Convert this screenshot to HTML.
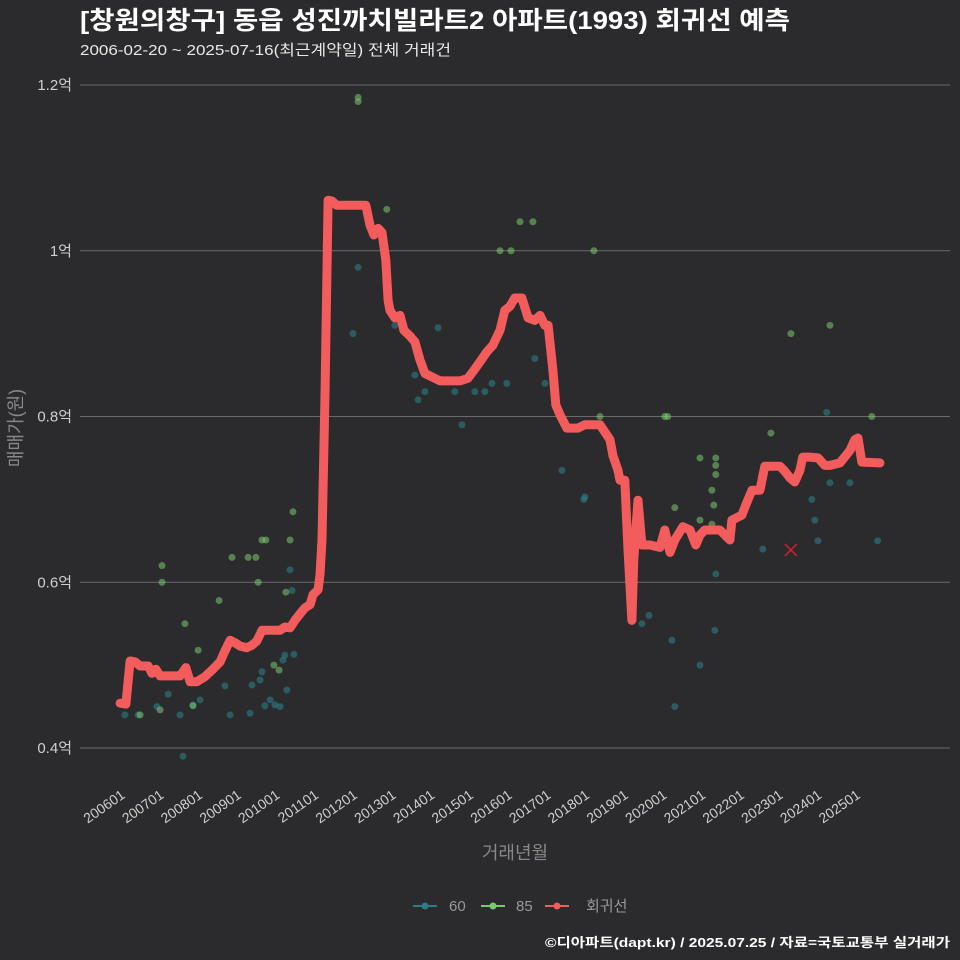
<!DOCTYPE html>
<html><head><meta charset="utf-8"><style>
body{margin:0;background:#2b2a2c;}
svg{display:block;font-family:"Liberation Sans","Noto Sans CJK KR",sans-serif;}
</style></head><body>
<svg id="chart" width="960" height="960" viewBox="0 0 960 960">
<rect width="960" height="960" fill="#2b2a2c"/>
<text x="80" y="29" fill="#ffffff" font-size="25" font-weight="bold" textLength="710" lengthAdjust="spacingAndGlyphs">[창원의창구] 동읍 성진까치빌라트2 아파트(1993) 회귀선 예측</text>
<text x="80" y="55" fill="#e8e8e8" font-size="15" textLength="371" lengthAdjust="spacingAndGlyphs">2006-02-20 ~ 2025-07-16(최근계약일) 전체 거래건</text>
<g id="grid"></g><g id="pts"></g><g id="line"></g><g id="axes"></g>
<text transform="translate(22,428) rotate(-90)" text-anchor="middle" fill="#888" font-size="18">매매가(원)</text>
<text x="515" y="859" text-anchor="middle" fill="#888" font-size="18">거래년월</text>
<g font-size="15" fill="#999">
<g><line x1="413" y1="906" x2="437" y2="906" stroke="#2a7f86" stroke-width="2"/><circle cx="425" cy="906" r="3.5" fill="#2a7f86"/><text x="449" y="911">60</text></g>
<g><line x1="481" y1="906" x2="505" y2="906" stroke="#7bc96f" stroke-width="2"/><circle cx="493" cy="906" r="3.5" fill="#7bc96f"/><text x="516" y="911">85</text></g>
<g><line x1="545" y1="906" x2="569" y2="906" stroke="#f25c5c" stroke-width="2"/><circle cx="557" cy="906" r="3.5" fill="#f25c5c"/><text x="586" y="911">회귀선</text></g>
</g>
<text x="950" y="947" text-anchor="end" fill="#ffffff" font-size="13" font-weight="bold" textLength="405" lengthAdjust="spacingAndGlyphs">©디아파트(dapt.kr) / 2025.07.25 / 자료=국토교통부 실거래가</text>
</svg>
<script>
// months since 2006-01, values in 억
const lineMonths=[-0.9,0.9,2.2,3.7,5.3,7.8,9.0,10.2,11.5,13.0,15.2,17.7,19.5,20.8,22.9,25.4,27.6,30.1,31.6,33.2,34.7,36.3,38.4,40.0,41.5,43.1,45.6,48.7,50.2,51.8,53.3,54.9,56.4,58.0,58.9,60.5,61.1,61.7,62.6,63.6,64.8,66.3,73.5,75.3,76.6,77.8,79.1,80.3,81.5,82.2,82.8,84.3,85.9,87.1,89.0,90.5,92.1,93.6,95.2,98.3,101.4,104.5,106.9,108.5,110.7,112.8,114.7,116.9,118.4,120.0,121.5,123.7,125.6,127.7,129.3,130.8,131.8,133.3,134.2,135.5,137.6,139.5,141.1,143.2,147.9,151.0,151.9,153.5,154.1,155.6,156.6,157.8,158.4,159.7,160.9,163.4,166.5,168.0,169.6,171.1,173.6,175.8,177.6,178.9,180.4,185.1,188.2,188.8,191.9,193.1,195.0,197.5,199.0,203.7,205.2,206.8,208.3,209.9,210.8,213.0,215.5,217.6,219.2,222.3,225.4,226.9,227.9,229.1,234.7];
const lineValues=[0.454,0.453,0.505,0.504,0.499,0.499,0.490,0.495,0.487,0.487,0.487,0.487,0.497,0.480,0.480,0.486,0.494,0.504,0.517,0.530,0.527,0.523,0.521,0.524,0.529,0.542,0.542,0.542,0.546,0.545,0.554,0.562,0.569,0.573,0.585,0.591,0.609,0.651,0.820,1.061,1.060,1.055,1.055,1.055,1.031,1.019,1.027,1.022,0.989,0.940,0.928,0.919,0.922,0.904,0.897,0.890,0.868,0.852,0.849,0.843,0.843,0.843,0.846,0.854,0.866,0.878,0.886,0.904,0.928,0.933,0.943,0.943,0.919,0.916,0.922,0.910,0.910,0.856,0.814,0.802,0.786,0.786,0.786,0.790,0.790,0.772,0.753,0.735,0.723,0.723,0.639,0.554,0.627,0.699,0.645,0.645,0.642,0.663,0.636,0.651,0.667,0.663,0.645,0.657,0.663,0.663,0.651,0.675,0.681,0.693,0.711,0.711,0.740,0.740,0.734,0.726,0.721,0.735,0.751,0.751,0.750,0.741,0.741,0.744,0.759,0.772,0.774,0.745,0.744];
const s60Months=[0.6,4.7,10.5,14,17.7,18.6,21.7,23.9,31.6,33.2,39.4,40,42.5,43.1,44,45.6,47.1,48.7,49.6,50.2,50.8,51.8,52.4,53,71.3,72.9,84.3,90.5,91.5,93.6,97.7,102.9,105.1,109.1,112.2,114.4,119,127.7,130.8,136.1,142.9,143.2,160.9,163.1,170.2,171.1,178.9,183.5,183.8,198.4,213.6,214.5,215.5,218.2,219.2,225.4,234];
const s60Values=[.44,.44,.45,.465,.44,.39,.452,.458,.475,.44,.442,.476,.482,.492,.451,.458,.452,.45,.506,.512,.47,.615,.59,.513,.9,.98,.91,.85,.82,.83,.907,.83,.79,.83,.83,.84,.84,.87,.84,.735,.7,.703,.55,.56,.53,.45,.5,.542,.61,.64,.7,.675,.65,.805,.72,.72,.65];
const s85Months=[12.1,12.1,19.2,21.7,23.3,29.8,33.8,38.8,41.2,41.9,43.1,44.3,46.8,48.4,51.8,52.7,50.5,72.9,72.9,81.8,116.9,120.3,123.1,127.1,146,147.9,168,168.9,171.1,178.9,182.6,183.2,183.8,183.8,183.8,182.6,200.9,207.1,219.2,232.2,5.3,11.5,178.9];
const s85Values=[.62,.6,.55,.451,.518,.578,.63,.63,.63,.6,.651,.651,.5,.494,.651,.685,.588,1.185,1.18,1.05,1.0,1.0,1.035,1.035,1.0,.8,.8,.8,.69,.75,.67,.693,.73,.741,.75,.711,.78,.9,.91,.8,.44,.446,.675];
const outlierMonths=[207.1];
const outlierValues=[0.639];
const yTicks=[0.4,0.6,0.8,1.0,1.2];
const yTickLabels=["0.4억","0.6억","0.8억","1억","1.2억"];
const xTickMonths=[0,12,24,36,48,60,72,84,96,108,120,132,144,156,168,180,192,204,216,228];
const xTickLabels=["200601","200701","200801","200901","201001","201101","201201","201301","201401","201501","201601","201701","201801","201901","202001","202101","202201","202301","202401","202501"];

const NS="http://www.w3.org/2000/svg";
const xs=m=>123+m*3.225;
const ys=v=>748-(v-0.4)*828.75;
function mk(tag,attrs,parent){const e=document.createElementNS(NS,tag);for(const k in attrs)e.setAttribute(k,attrs[k]);parent.appendChild(e);return e;}
const grid=document.getElementById('grid'),axes=document.getElementById('axes'),pts=document.getElementById('pts'),lineG=document.getElementById('line');
yTicks.forEach((t,i)=>{
  const l=mk('line',{x1:80,x2:950,y1:ys(t),y2:ys(t),stroke:'#6a6a6a','stroke-width':1},grid);
  
  
  const tx=mk('text',{x:72,y:ys(t)+5,'text-anchor':'end',fill:'#cfcfcf','font-size':15},axes);
  tx.textContent=yTickLabels[i];
  
  
});
xTickMonths.forEach((m,i)=>{
  const x=xs(m);
  const tx=mk('text',{transform:`translate(${x+3},${797}) rotate(-35)`,'text-anchor':'end',fill:'#cfcfcf','font-size':14},axes);
  tx.textContent=xTickLabels[i];
  
  
});
s60Months.forEach((m,i)=>{
  const c=mk('circle',{cx:xs(m),cy:ys(s60Values[i]),r:3.5,fill:'#2a7f86','fill-opacity':0.6},pts);
  
  
});
s85Months.forEach((m,i)=>{
  const c=mk('circle',{cx:xs(m),cy:ys(s85Values[i]),r:3.5,fill:'#7bc96f','fill-opacity':0.55},pts);
  
  
});
const d=lineMonths.map((m,i)=>(i?'L':'M')+xs(m).toFixed(1)+','+ys(lineValues[i]).toFixed(1)).join('');
const p=mk('path',{d:d,fill:'none',stroke:'#f25c5c','stroke-width':9,'stroke-linejoin':'round','stroke-linecap':'round'},lineG);


outlierMonths.forEach((m,i)=>{
  const x=xs(m),y=ys(outlierValues[i]);
  const g=mk('path',{d:`M${x-6},${y-6}L${x+6},${y+6}M${x+6},${y-6}L${x-6},${y+6}`,stroke:'#d0202a','stroke-width':1.5},lineG);
  
  
});
</script>
</body></html>
